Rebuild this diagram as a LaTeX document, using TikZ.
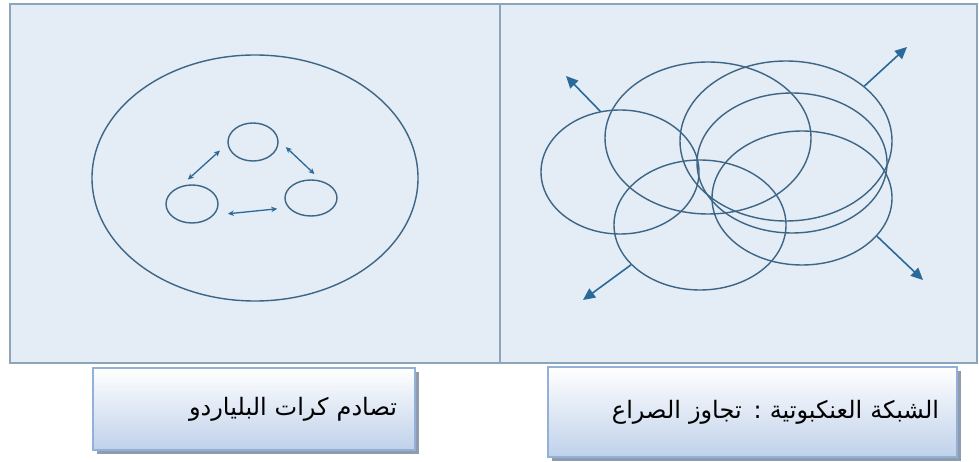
\documentclass[tikz,border=0pt]{standalone}
\usepackage{fontspec}
\newfontfamily\arabicfont[Script=Arabic]{DejaVu Sans}
\TeXXeTstate=1
\usepackage{tikz}
\usetikzlibrary{positioning,arrows.meta,shapes.geometric,shadows}
\usepackage{xcolor}
\definecolor{panelbg}{HTML}{E4ECF5}
\definecolor{panelline}{HTML}{8DA5B8}
\definecolor{ringline}{HTML}{3C6586}
\definecolor{arrowblue}{HTML}{2A6A9A}
\definecolor{lblline}{HTML}{93B1D8}
\definecolor{lblbottom}{HTML}{BFD1EA}
\definecolor{lblshadow}{HTML}{8E9CAE}

\begin{document}
\begin{tikzpicture}[
    x=1pt, y=-1pt,
    ring/.style={draw=ringline, line width=1.4pt, ellipse, inner sep=0pt},
    biarr/.style={{Stealth[length=6pt,width=5.5pt]}-{Stealth[length=6pt,width=5.5pt]}, draw=arrowblue, line width=1.3pt},
    outarr/.style={-{Triangle[length=12pt,width=11pt]}, draw=arrowblue, line width=1.6pt},
    lbl/.style={draw=lblline, line width=1.2pt, top color=white, bottom color=lblbottom,
        drop shadow={shadow xshift=4pt, shadow yshift=-4pt, fill=lblshadow, opacity=1},
        align=right, inner xsep=18pt, font=\arabicfont\fontsize{24}{28}\selectfont}
]
\useasboundingbox (0,0) rectangle (979,462);

% two panels
\fill[panelbg] (10,4) rectangle (977,363);
\draw[panelline, line width=1.5pt] (10,4) rectangle (977,363);
\draw[panelline, line width=1.5pt] (500,4) -- (500,363);

% billiard balls
\node[ring, minimum width=326pt, minimum height=246pt] (table) at (255,178) {};
\node[ring, minimum width=50pt, minimum height=38pt] (btop) at (253,142) {};
\node[ring, minimum width=52pt, minimum height=38pt] (bleft) at (192,204) {};
\node[ring, minimum width=52pt, minimum height=36pt] (bright) at (311,198) {};

\draw[biarr, shorten <=10pt, shorten >=10pt] (btop.184) -- (bleft.123);
\draw[biarr, shorten <=10pt, shorten >=10pt] (btop.4) -- (bright.58);
\draw[biarr, shorten <=14pt, shorten >=11pt] (bleft.333) -- (bright.203);

% web: overlapping rings
\node[ring, minimum width=158pt, minimum height=124pt] (ea) at (620,172) {};
\node[ring, minimum width=206pt, minimum height=152pt] (eb) at (708,138) {};
\node[ring, minimum width=212pt, minimum height=160pt] (ec) at (786,141) {};
\node[ring, minimum width=190pt, minimum height=140pt] (ed) at (792,163) {};
\node[ring, minimum width=180pt, minimum height=134pt] (ee) at (802,198) {};
\node[ring, minimum width=172pt, minimum height=130pt] (ef) at (700,225) {};

\coordinate (ul) at (566,76);
\coordinate (ur) at (907,47);
\coordinate (ll) at (583,300);
\coordinate (lr) at (923,280);

\draw[outarr] (ea.108) -- (ul);
\draw[outarr] (ec.35) -- (ur);
\draw[outarr] (ef.210) -- (ll);
\draw[outarr] (ee.333) -- (lr);

% captions
\node[lbl, minimum width=322pt, minimum height=82pt, text width=286pt] (billiard) at (254,409)
    {\beginR تصادم كرات البلياردو\endR};
\node[lbl, minimum width=409pt, minimum height=90pt, text width=373pt] (web) at (752.5,412)
    {\beginR الشبكة العنكبوتية : تجاوز الصراع\endR};
\end{tikzpicture}
\end{document}
